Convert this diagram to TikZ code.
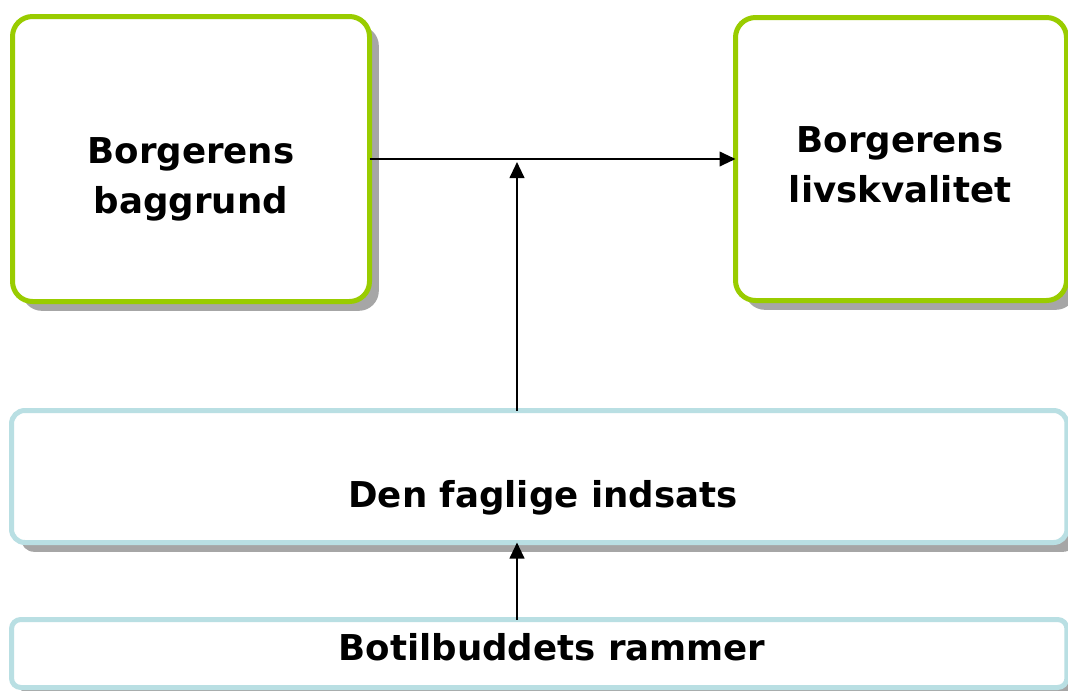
\documentclass[tikz,border=0pt]{standalone}
\usepackage{fontspec}
\setmainfont{DejaVu Sans}
\usetikzlibrary{arrows.meta, shadows}
\definecolor{leafgreen}{RGB}{153,204,0}
\definecolor{paleaqua}{RGB}{185,223,227}

\begin{document}
\begin{tikzpicture}[
		x = 0.75pt, y = -0.75pt,
		boxshadow/.style={drop shadow={shadow xshift=7pt, shadow yshift=-7pt, opacity=1, fill=black!35}},
		goalbox/.style={draw=leafgreen, line width=3.75pt, fill=white, rounded corners=15pt, inner sep=0pt, outer sep=0pt, boxshadow},
		layerbox/.style={draw=paleaqua, line width=3.75pt, fill=white, inner sep=0pt, outer sep=0pt, boxshadow},
		caption/.style={font=\fontsize{26.7}{37.5}\selectfont\bfseries, align=center, inner sep=0pt},
		link/.style={line width=1.5pt, -{Triangle[length=12pt, width=11pt]}},
		]

	\useasboundingbox (0,0) rectangle (1068,690);
	\node (baggrund) [goalbox, minimum width=267.75pt, minimum height=213.75pt] at (191,159) {};
	\node (livskval) [goalbox, minimum width=248.25pt, minimum height=212.25pt] at (901,159) {};
	\node (indsats) [layerbox, rounded corners=10pt, minimum width=791.6pt, minimum height=99pt] at (539.25,476.5) {};
	\node (rammer) [layerbox, rounded corners=7pt, minimum width=791.6pt, minimum height=51pt] at (539.25,653.5) {};

	\node (baggrundtext) [caption] at (191,179) {Borgerens\\baggrund};
	\node (livskvaltext) [caption] at (900,165) {Borgerens\\livskvalitet};
	\node (indsatstext) [caption, anchor=base] at (543,507) {Den faglige indsats};
	\node (rammertext) [caption, anchor=base] at (552,660) {Botilbuddets rammer};

	\coordinate (meet) at (517,162);
	\draw[link] (baggrund) -- (livskval);
	\draw[link] (indsats.north -| meet) -- (meet);
	\draw[link] (rammer.north -| meet) -- (indsats.south -| meet);
\end{tikzpicture}
\end{document}
